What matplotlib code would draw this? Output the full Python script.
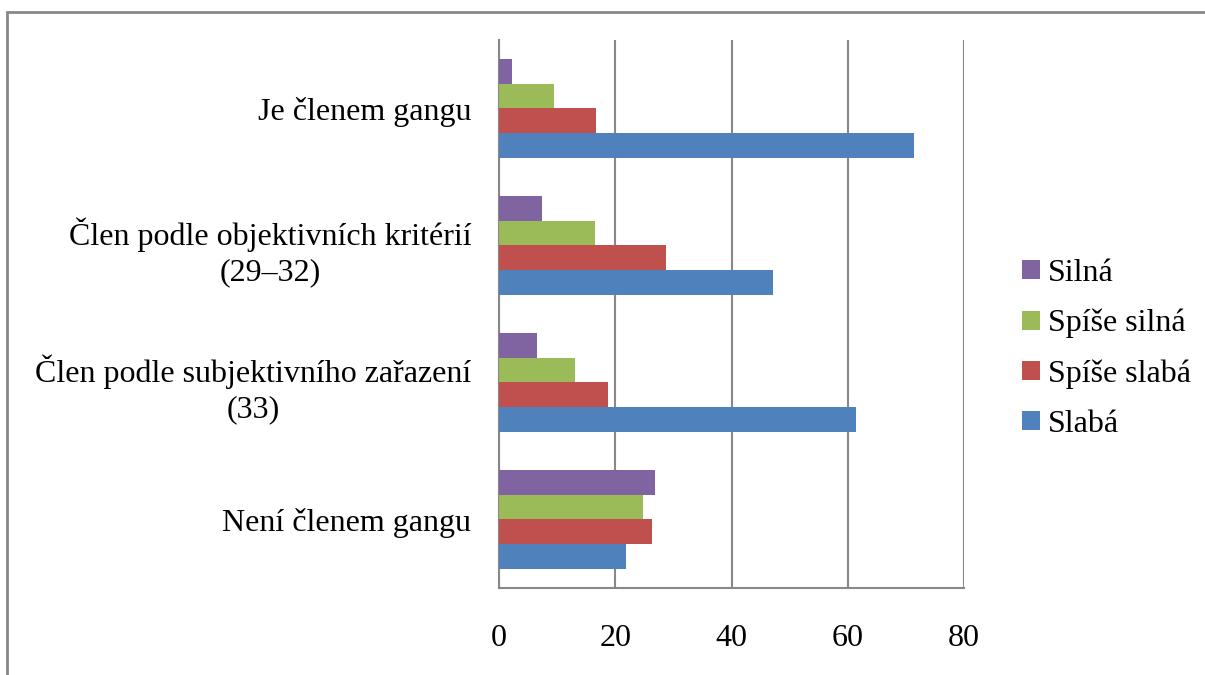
import matplotlib
matplotlib.use('Agg')
import matplotlib.pyplot as plt
from matplotlib.patches import Rectangle
import numpy as np

plt.rcParams['font.family'] = ['Liberation Serif', 'DejaVu Serif']

# categories from bottom to top
categories = ['Není členem gangu',
              'Člen podle subjektivního zařazení\n(33)',
              'Člen podle objektivních kritérií\n(29–32)',
              'Je členem gangu']
series = ['Slabá', 'Spíše slabá', 'Spíše silná', 'Silná']
slaba = [21.8, 61.5, 47.2, 71.4]
spise_slaba = [26.3, 18.7, 28.8, 16.7]
spise_silna = [24.7, 13.1, 16.5, 9.5]
silna = [26.9, 6.6, 7.35, 2.3]
colors = ['#4F81BD', '#C0504D', '#9BBB59', '#8064A2']
xticks = [0, 20, 40, 60, 80]

W, H = 1205, 675
fig = plt.figure(figsize=(W / 100, H / 100), dpi=100)
ax = fig.add_axes([499 / W, 1 - 587.7 / H, 465 / W, 547.7 / H])

y = np.arange(len(categories))
bh = 0.18
values = [slaba, spise_slaba, spise_silna, silna]
bars = []
for i, (vals, c, name) in enumerate(zip(values, colors, series)):
    b = ax.barh(y - 1.5 * bh + i * bh, vals, height=bh, color=c, label=name, zorder=3)
    bars.append(b)

ax.set_xlim(0, 80)
ax.set_ylim(-0.5, 3.5)
ax.set_xticks(xticks)
ax.set_yticks(y)
ax.set_yticklabels(categories, fontsize=23, linespacing=1.3)
for t in ax.get_yticklabels():
    t.set_multialignment('center')
ax.tick_params(axis='y', length=0, pad=20)
ax.tick_params(axis='x', length=0, pad=26, labelsize=23)
ax.grid(axis='x', color='#888888', linewidth=1.5, zorder=0)
for s in ['top', 'right']:
    ax.spines[s].set_visible(False)
for s in ['left', 'bottom']:
    ax.spines[s].set_color('#888888')
    ax.spines[s].set_linewidth(1.5)

handles = bars[::-1]
leg = fig.legend(handles, [h.get_label() for h in handles], loc='center left',
                 bbox_to_anchor=(1006 / W, 1 - 349 / H), frameon=False,
                 fontsize=23, handlelength=0.55, handleheight=0.55,
                 handletextpad=0.25, labelspacing=0.66, borderpad=0)

fig.patches.append(Rectangle((7, -10), W + 20, H - 12 + 10, transform=None,
                             fill=False, edgecolor='#888888', linewidth=2))

fig.savefig('out.png', dpi=100)
